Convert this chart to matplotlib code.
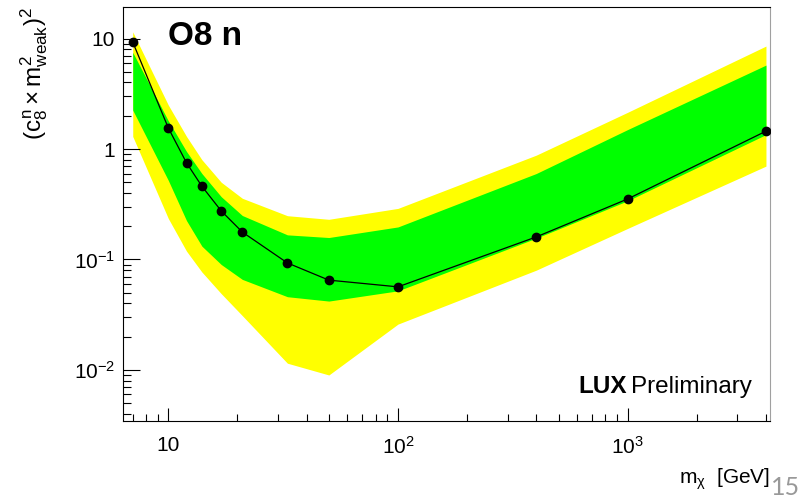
import numpy as np
import matplotlib
matplotlib.use("Agg")
import matplotlib.pyplot as plt
from matplotlib.ticker import FixedLocator, FixedFormatter, LogLocator, NullFormatter

plt.rcParams['font.family'] = ['Liberation Sans', 'DejaVu Sans']
plt.rcParams['mathtext.fontset'] = 'custom'
plt.rcParams['mathtext.rm'] = 'Liberation Sans'
plt.rcParams['mathtext.it'] = 'Liberation Sans'
plt.rcParams['mathtext.bf'] = 'Liberation Sans:bold'

# WIMP mass [GeV] and 90% CL limit on (c8n * mweak^2)^2
mass = [7, 10, 12, 14, 17, 21, 33, 50, 100, 400, 1000, 4000]
limit = [9.3, 1.55, 0.75, 0.46, 0.275, 0.177, 0.093, 0.065, 0.0565, 0.16, 0.353, 1.45]

# expected sensitivity bands
green_hi = [7.5, 1.8, 0.95, 0.6, 0.37, 0.25, 0.167, 0.158, 0.197, 0.60, 1.50, 5.75]
green_lo = [2.25, 0.52, 0.225, 0.132, 0.09, 0.066, 0.046, 0.042, 0.052, 0.156, 0.34, 1.35]
yellow_hi = [11.5, 2.5, 1.3, 0.8, 0.5, 0.358, 0.249, 0.231, 0.29, 0.88, 2.15, 8.55]
yellow_lo = [1.3, 0.235, 0.119, 0.077, 0.049, 0.031, 0.0115, 0.009, 0.026, 0.080, 0.191, 0.70]

x_ticks = [10, 100, 1000]
x_labels = ['10', r'$\mathdefault{10^{2}}$', r'$\mathdefault{10^{3}}$']
y_ticks = [0.01, 0.1, 1, 10]
y_labels = [r'$\mathdefault{10^{-2}}$', r'$\mathdefault{10^{-1}}$', '1', '10']

W, H = 807, 499
fig = plt.figure(figsize=(W / 100, H / 100), dpi=100)
ax = fig.add_axes([122.7 / W, 1 - 420.7 / H, (770 - 122.7) / W, (420.7 - 7) / H])

ax.fill_between(mass, yellow_lo, yellow_hi, color='#ffff00', lw=0)
ax.fill_between(mass, green_lo, green_hi, color='#00ff00', lw=0)
ax.plot(mass, limit, color='black', lw=0.9, marker='o', ms=6, zorder=3)

ax.set_xscale('log')
ax.set_yscale('log')
ax.set_xlim(6.33, 4165)
ax.set_ylim(0.00347, 19.3)

ax.xaxis.set_major_locator(FixedLocator(x_ticks))
ax.xaxis.set_major_formatter(FixedFormatter(x_labels))
ax.yaxis.set_major_locator(FixedLocator(y_ticks))
ax.yaxis.set_major_formatter(FixedFormatter(y_labels))
ax.xaxis.set_minor_locator(LogLocator(base=10, subs=np.arange(2, 10), numticks=20))
ax.yaxis.set_minor_locator(LogLocator(base=10, subs=np.arange(2, 10), numticks=20))
ax.xaxis.set_minor_formatter(NullFormatter())
ax.yaxis.set_minor_formatter(NullFormatter())

ax.tick_params(axis='both', which='both', direction='in', top=False, right=False,
               width=0.8, labelsize=15)
ax.tick_params(axis='x', which='major', length=9.4, pad=11)
ax.tick_params(axis='x', which='minor', length=4.7)
ax.tick_params(axis='y', which='major', length=12, pad=5.5)
ax.tick_params(axis='y', which='minor', length=6)

for s in ax.spines.values():
    s.set_linewidth(0.8)
ax.spines['right'].set_color('#a0a0a0')

ax.set_ylabel(r'$(c^{n}_{8}\times m^{2}_{weak})^{2}$', fontsize=17.5, loc='top')
ax.yaxis.set_label_coords(-0.112, 1.0)
ax.set_xlabel(r'$m_{\chi}$  [GeV]', fontsize=15, loc='right')
ax.xaxis.set_label_coords(1.0, -0.11)
ax.xaxis.label.set_va('top')

fig.text(168 / W, 1 - 45 / H, 'O8 n', fontsize=24, fontweight='bold', va='baseline')
fig.text(752 / W, 1 - 393 / H, 'Preliminary', fontsize=17.5, ha='right', va='baseline')
fig.text(627 / W, 1 - 393 / H, 'LUX', fontsize=17.5, fontweight='bold', ha='right', va='baseline')

# slide page number
fig.text(771 / W, 1 - 495 / H, '15', fontsize=18, color='#999999', family=['Lato', 'DejaVu Sans'],
         va='baseline')

fig.savefig('out.png', dpi=100)
